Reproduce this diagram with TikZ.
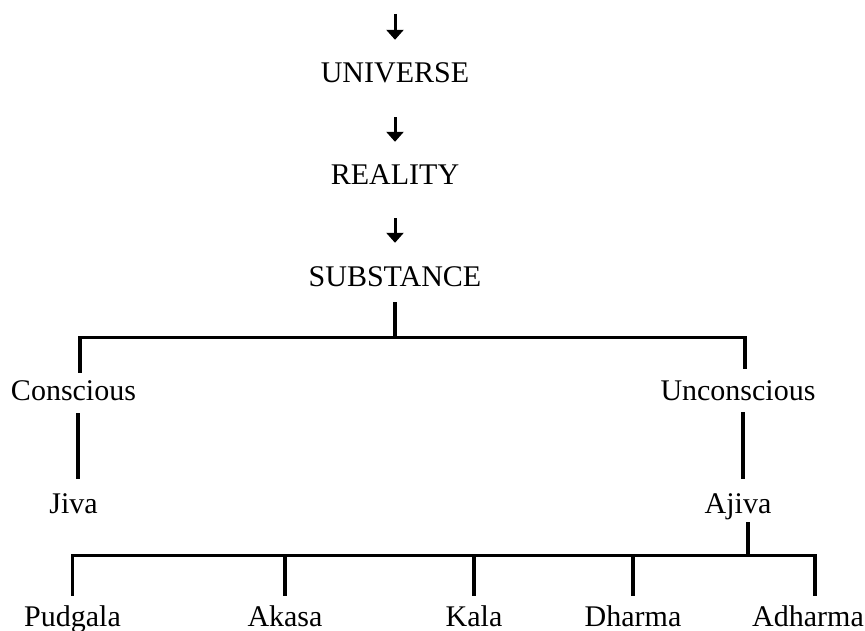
\documentclass[tikz,border=0pt]{standalone}
\usepackage{fontspec}
\setmainfont{Liberation Serif}
\usetikzlibrary{arrows.meta}

\begin{document}
\begin{tikzpicture}[x=1pt, y=-1pt, font=\fontsize{30}{36}\selectfont]
    \tikzset{
        lbl/.style={inner sep=0pt, text height=20pt, text depth=0pt,
        anchor=base},
        tline/.style={line width=3.3pt},
        arrow/.style={line width=3pt,-{Triangle[width=17pt,length=10pt]}}
    }
    \useasboundingbox (0,0) rectangle (865,631);

    \coordinate (top) at (395,14);
    \node (univ) [lbl] at (395,83) {UNIVERSE};
    \node (real) [lbl] at (395,185) {REALITY};
    \node (subst) [lbl] at (395,287) {SUBSTANCE};
    \node (consc) [lbl] at (73.5,400) {Conscious};
    \node (unc) [lbl] at (738,400) {Unconscious};
    \node (jiva) [lbl] at (73.5,513) {Jiva};
    \node (ajiva) [lbl] at (738,513) {Ajiva};
    \node (pud) [lbl] at (72.5,626) {Pudgala};
    \node (akasa) [lbl] at (285,626) {Akasa};
    \node (kala) [lbl] at (474,626) {Kala};
    \node (dharma) [lbl] at (633,626) {Dharma};
    \node (adharma) [lbl] at (808,626) {Adharma};

    \draw [arrow, shorten >=23pt] (top) -- (univ.north);
    \draw [arrow, shorten <=34pt, shorten >=23pt] (univ.south) -- (real.north);
    \draw [arrow, shorten <=33pt, shorten >=24pt] (real.south) -- (subst.north);

    \draw [tline, shorten <=15pt, shorten >=7pt] (subst.south) -- ++(0,50) -| ([xshift=6.5pt]consc.north);
    \draw [tline, shorten <=15pt, shorten >=11pt] (subst.south) -- ++(0,50) -| ([xshift=7pt]unc.north);
    \draw [tline, shorten <=13pt, shorten >=14pt] ([xshift=4.5pt]consc.south) -- ([xshift=4.5pt]jiva.north);
    \draw [tline, shorten <=12pt, shorten >=14pt] ([xshift=5pt]unc.south) -- ([xshift=5pt]ajiva.north);

    \draw [tline, shorten <=9pt, shorten >=10pt] ([xshift=10pt]ajiva.south) -- ++(0,42) -| (pud.north);
    \draw [tline, shorten <=9pt, shorten >=10pt] ([xshift=10pt]ajiva.south) -- ++(0,42) -| (akasa.north);
    \draw [tline, shorten <=9pt, shorten >=10pt] ([xshift=10pt]ajiva.south) -- ++(0,42) -| (kala.north);
    \draw [tline, shorten <=9pt, shorten >=10pt] ([xshift=10pt]ajiva.south) -- ++(0,42) -| (dharma.north);
    \draw [tline, shorten <=9pt, shorten >=10pt] ([xshift=10pt]ajiva.south) -- ++(0,42) -| ([xshift=7pt]adharma.north);
\end{tikzpicture}
\end{document}
